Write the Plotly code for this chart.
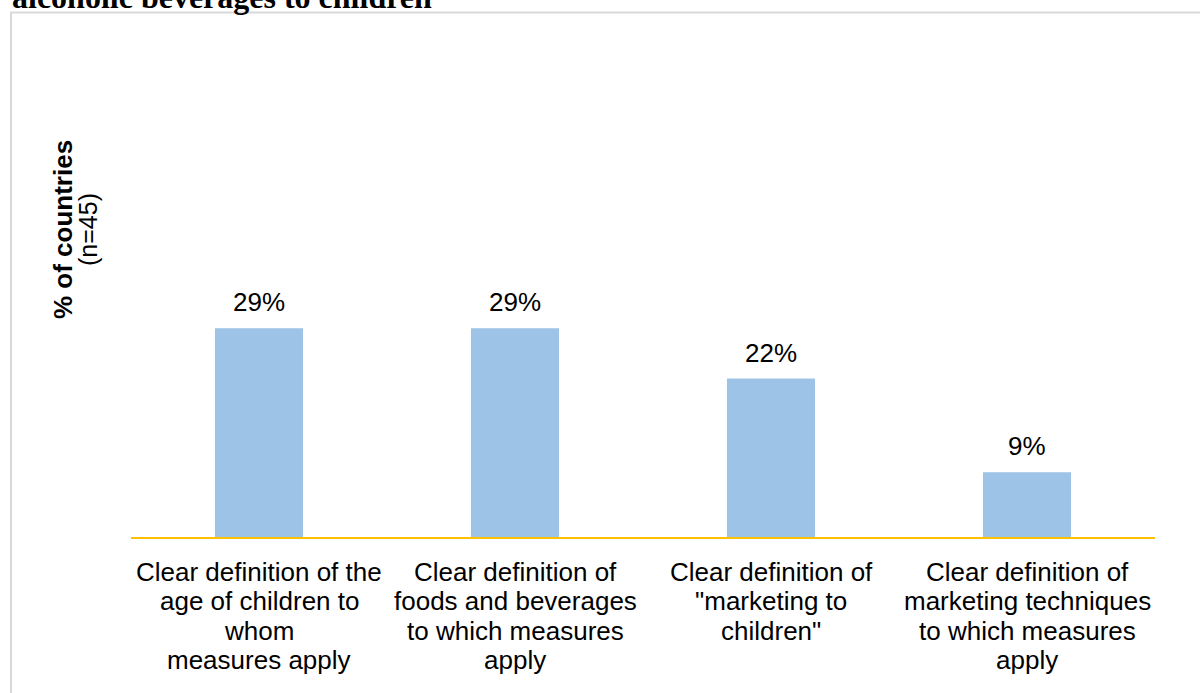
import plotly.graph_objects as go

categories = [
    "Clear definition of the<br>age of children to<br>whom<br>measures apply",
    "Clear definition of<br>foods and beverages<br>to which measures<br>apply",
    "Clear definition of<br>\"marketing to<br>children\"",
    "Clear definition of<br>marketing techniques<br>to which measures<br>apply",
]
values = [29, 29, 22, 9]
value_labels = ["29%", "29%", "22%", "9%"]
title_text = "alcoholic beverages to children"
ytitle_main = "% of countries"
ytitle_sub = "(n=45)"

# layout constants (pixels)
W, H = 1200, 693
L, R, T, B = 131, 45, 100, 156
plot_h = H - T - B
px_per_unit = 7.2

cat_ids = [f"c{i}" for i in range(len(categories))]

fig = go.Figure()
fig.add_trace(go.Bar(
    x=cat_ids, y=values, width=0.344,
    marker=dict(color="#9DC3E6", line=dict(width=0)),
    hoverinfo="skip",
))

SANS = "Liberation Sans, Arial, sans-serif"
ann = []
for cid, v, lab in zip(cat_ids, values, value_labels):
    ann.append(dict(x=cid, y=v, xref="x", yref="y", text=lab, showarrow=False,
                    yanchor="bottom", yshift=9, font=dict(family=SANS, size=26, color="#000000")))
for cid, cat in zip(cat_ids, categories):
    for i, line in enumerate(cat.split("<br>")):
        ann.append(dict(x=cid, y=0, xref="x", yref="y", text=line, showarrow=False,
                        yanchor="middle", yshift=-(35 + 29.3 * i),
                        font=dict(family=SANS, size=26, color="#000000")))

def py_to_paper(py):
    return (H - B - py) / plot_h

def px_to_paper(px):
    return (px - L) / (W - L - R)

ann.append(dict(x=0, y=py_to_paper(230), xref="paper", yref="paper", xshift=63 - L,
                text="<b>" + ytitle_main + "</b>", textangle=-90, showarrow=False,
                xanchor="center", yanchor="middle",
                font=dict(family=SANS, size=26, color="#000000")))
ann.append(dict(x=0, y=py_to_paper(230), xref="paper", yref="paper", xshift=88 - L,
                text=ytitle_sub, textangle=-90, showarrow=False,
                xanchor="center", yanchor="middle",
                font=dict(family=SANS, size=25, color="#000000")))
ann.append(dict(x=px_to_paper(10), y=py_to_paper(17), xref="paper", yref="paper",
                text="<b>" + title_text + "</b>", showarrow=False,
                xanchor="left", yanchor="bottom",
                font=dict(family="Liberation Serif, Times New Roman, serif", size=32, color="#000000")))

fig.update_layout(
    width=W, height=H, autosize=False,
    margin=dict(l=L, r=R, t=T, b=B, pad=0),
    paper_bgcolor="#FFFFFF", plot_bgcolor="#FFFFFF",
    showlegend=False,
    annotations=ann,
    shapes=[dict(type="rect", xref="paper", yref="paper",
                 x0=px_to_paper(11), x1=px_to_paper(1250),
                 y0=py_to_paper(750), y1=py_to_paper(12.5),
                 line=dict(color="#D9D9D9", width=2), fillcolor="rgba(0,0,0,0)", layer="below")],
    xaxis=dict(type="category", range=[-0.5, 3.5], showticklabels=False, ticks="",
               showgrid=False, zeroline=False, showline=True, linecolor="#FFC000", linewidth=2,
               fixedrange=True),
    yaxis=dict(range=[0, plot_h / px_per_unit], visible=False, showgrid=False, zeroline=False,
               fixedrange=True),
)

fig.write_html("out.html", config={"displayModeBar": False},
               post_script="document.body.style.margin='0';document.body.style.padding='0';")
